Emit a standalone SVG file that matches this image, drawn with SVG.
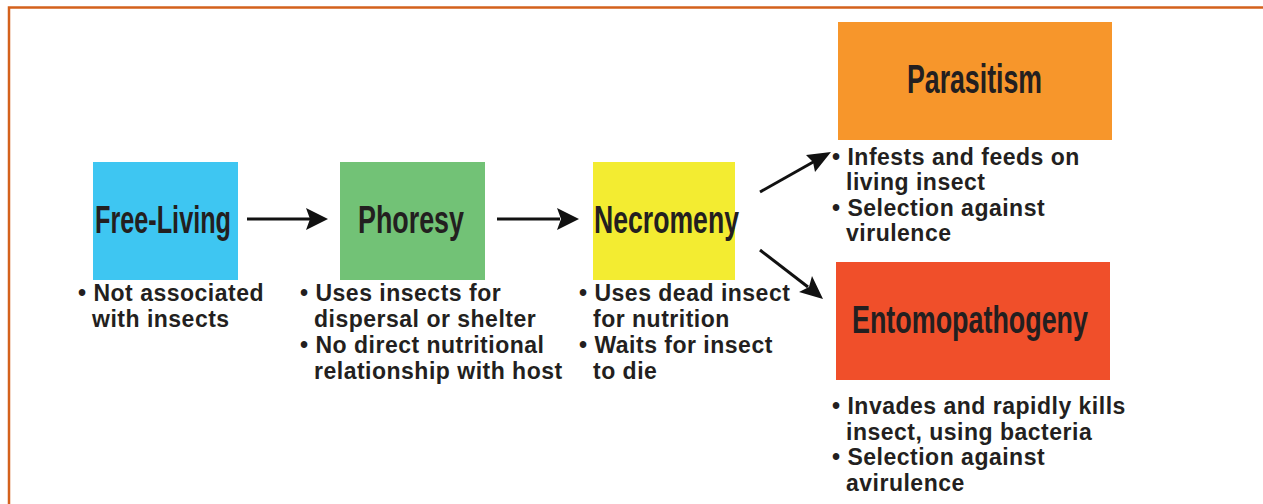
<svg xmlns="http://www.w3.org/2000/svg" width="1263" height="504" viewBox="0 0 1263 504">
<defs>
<style>
.t{font-family:"Liberation Sans",Arial,sans-serif;font-weight:bold;font-size:38px;fill:#231f20}
.b{font-family:"Liberation Sans",Arial,sans-serif;font-weight:bold;font-size:23px;letter-spacing:0.5px;fill:#231f20}
.c{stroke:#111;stroke-width:3;fill:none}
.h{fill:#111}
</style>
</defs>
<rect width="1263" height="504" fill="#fff"/>
<path d="M9,504 V7.5 H1263" fill="none" stroke="#d4611c" stroke-width="2.5"/>
<g id="free-living">
<rect x="93" y="162" width="145" height="118" fill="#3ec6f2"/>
<text class="t" x="95" y="233" textLength="136" lengthAdjust="spacingAndGlyphs">Free-Living</text>
<text class="b" x="78" y="301">• Not associated</text>
<text class="b" x="92" y="327">with insects</text>
</g>
<g id="phoresy">
<rect x="340" y="162" width="145" height="118" fill="#72c276"/>
<text class="t" x="358" y="233" textLength="106" lengthAdjust="spacingAndGlyphs">Phoresy</text>
<text class="b" x="300" y="301">• Uses insects for</text>
<text class="b" x="314" y="327">dispersal or shelter</text>
<text class="b" x="300" y="353">• No direct nutritional</text>
<text class="b" x="314" y="379">relationship with host</text>
</g>
<g id="necromeny">
<rect x="593" y="162" width="142" height="118" fill="#f3ec31"/>
<text class="t" x="594" y="233" textLength="145" lengthAdjust="spacingAndGlyphs">Necromeny</text>
<text class="b" x="579" y="301">• Uses dead insect</text>
<text class="b" x="593" y="327">for nutrition</text>
<text class="b" x="579" y="353">• Waits for insect</text>
<text class="b" x="593" y="379">to die</text>
</g>
<g id="parasitism">
<rect x="838" y="22" width="274" height="118" fill="#f7962b"/>
<text class="t" x="907" y="93" style="font-size:41px" textLength="135" lengthAdjust="spacingAndGlyphs">Parasitism</text>
<text class="b" x="832" y="165">• Infests and feeds on</text>
<text class="b" x="846" y="190">living insect</text>
<text class="b" x="832" y="216">• Selection against</text>
<text class="b" x="846" y="241">virulence</text>
</g>
<g id="entomopathogeny">
<rect x="836" y="262" width="274" height="118" fill="#f04f2a"/>
<text class="t" x="852" y="333" style="font-size:39px" textLength="236" lengthAdjust="spacingAndGlyphs">Entomopathogeny</text>
<text class="b" x="832" y="414">• Invades and rapidly kills</text>
<text class="b" x="846" y="440">insect, using bacteria</text>
<text class="b" x="832" y="465">• Selection against</text>
<text class="b" x="846" y="491">avirulence</text>
</g>
<g id="connectors">
<path class="c" d="M247,219 H310"/>
<path class="h" d="M328,219 L306,208 L310,219 L306,230 Z"/>
<path class="c" d="M497,219 H560"/>
<path class="h" d="M579,219 L557,208 L561,219 L557,230 Z"/>
<path class="c" d="M760,192 L815,161"/>
<path class="h" d="M831,152 L806,155 L813,162 L815,172 Z"/>
<path class="c" d="M760,250 L808,287"/>
<path class="h" d="M823,299 L812,276 L809,287 L799,292 Z"/>
</g>
</svg>
